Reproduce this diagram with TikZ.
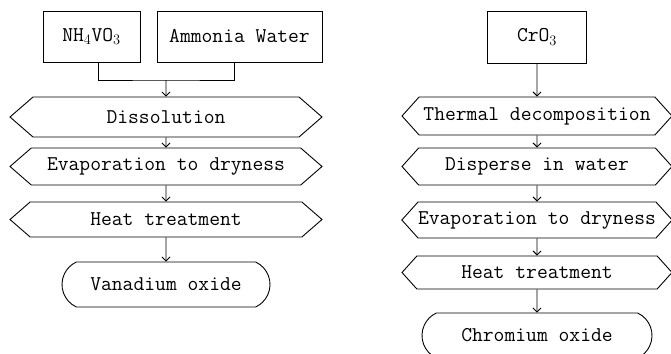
\documentclass[tikz,border=0pt]{standalone}
\usepackage{amsmath}
\usepackage{tikz}
\usetikzlibrary{shapes.symbols,shapes.misc,arrows.meta}

\tikzset{
  txt/.style={font=\ttfamily\fontsize{21}{24}\selectfont, line width=0.9pt, inner sep=0pt},
  srcbox/.style={txt, draw, rectangle},
  procbox/.style={txt, draw, signal, signal to=west and east},
  prodbox/.style={txt, draw, rounded rectangle, rounded rectangle arc length=130},
  flow/.style={-{Straight Barb[length=4pt,width=8pt]}},
}

\begin{document}
\begin{tikzpicture}[x=1pt,y=-1pt,line width=0.9pt]
\useasboundingbox (0,0) rectangle (671,353);
\clip (0,0) rectangle (671,353);

    % vanadium route
    \node[srcbox, minimum width=97, minimum height=51] (nh) at (91.5,36.5) {NH$_4$VO$_3$};
    \node[srcbox, minimum width=165, minimum height=51] (aw) at (239.5,36.5) {Ammonia Water};
    \node[procbox, signal pointer angle=82, minimum width=312, minimum height=40] (vdis) at (166,117) {Dissolution};
    \node[procbox, signal pointer angle=82, minimum width=312, minimum height=37] (vevap) at (166,166.5) {Evaporation to dryness};
    \node[procbox, signal pointer angle=82, minimum width=312, minimum height=35] (vheat) at (166,219.5) {Heat treatment};
    \node[prodbox, minimum width=208, minimum height=45] (vox) at (166,284.5) {Vanadium oxide};
    \coordinate (vjoin) at (166,80);

    % chromium route
    \node[srcbox, minimum width=99, minimum height=52] (cr) at (537,37) {CrO$_3$};
    \node[procbox, signal pointer angle=96, minimum width=270, minimum height=38] (cdec) at (537,116) {Thermal decomposition};
    \node[procbox, signal pointer angle=96, minimum width=270, minimum height=37] (cdisp) at (537,166.5) {Disperse in water};
    \node[procbox, signal pointer angle=96, minimum width=270, minimum height=36] (cevap) at (537,220) {Evaporation to dryness};
    \node[procbox, signal pointer angle=96, minimum width=270, minimum height=33] (cheat) at (537,272.5) {Heat treatment};
    \node[prodbox, minimum width=230, minimum height=45] (cox) at (537,335.5) {Chromium oxide};

    % draw the arrows
    \draw ([xshift=6.5pt]nh.south) |- (vjoin) -| ([xshift=-5.5pt]aw.south);
    \draw[flow] (vjoin) -- (vdis);
    \draw[flow] (vdis) -- (vevap);
    \draw[flow] (vevap) -- (vheat);
    \draw[flow] (vheat) -- (vox);

    \draw[flow] (cr) -- (cdec);
    \draw[flow] (cdec) -- (cdisp);
    \draw[flow] (cdisp) -- (cevap);
    \draw[flow] (cevap) -- (cheat);
    \draw[flow] (cheat) -- (cox);

\end{tikzpicture}
\end{document}
